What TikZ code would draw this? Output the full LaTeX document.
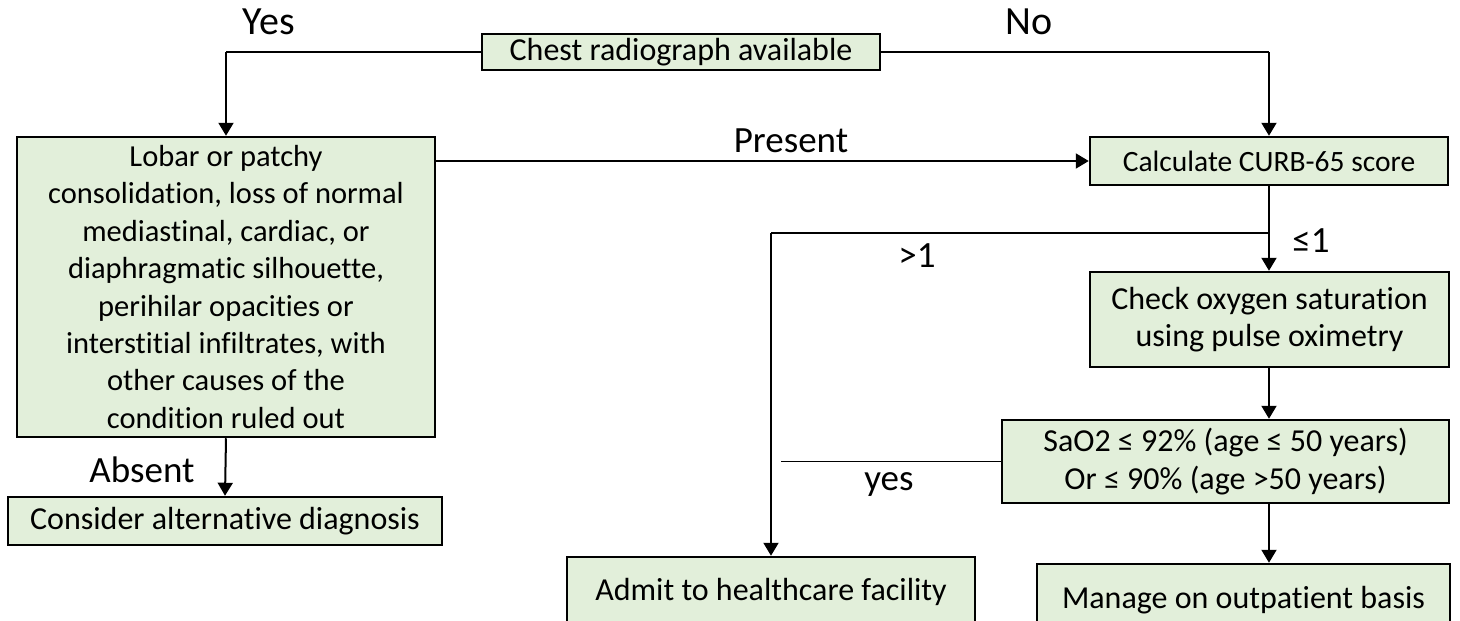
\documentclass[tikz,border=0pt]{standalone}
\usepackage{fontspec}
\setmainfont{Carlito}[Ligatures=NoCommon]
\usetikzlibrary{arrows.meta}
\definecolor{boxfill}{HTML}{E2EFDA}
\begin{document}
\begin{tikzpicture}[x=1pt,y=-1pt,
  box/.style={draw=black, line width=2.5pt, fill=boxfill, inner sep=0pt, align=center, font=\fontsize{32}{37}\selectfont},
  lbl/.style={font=\fontsize{37}{40}\selectfont, inner sep=0pt},
  conn/.style={line width=2pt, -{Triangle[length=13pt,width=15pt]}},
  thinline/.style={line width=1.3pt}]
\useasboundingbox (0,0) rectangle (1460,621);
\clip (0,0) rectangle (1460,621);
\fill[white] (0,0) rectangle (1460,621);

\node[box, minimum width=398pt, minimum height=36pt] (top) at (681,52) {Chest radiograph available};
\node[box, minimum width=418pt, minimum height=300pt, font=\fontsize{30.5}{37.4}\selectfont] (lobar) at (226,287) {Lobar or patchy\\consolidation, loss of normal\\mediastinal, cardiac, or\\diaphragmatic silhouette,\\perihilar opacities or\\interstitial infiltrates, with\\other causes of the\\condition ruled out};
\node[box, minimum width=434pt, minimum height=48pt] (alt) at (225,521) {Consider alternative diagnosis};
\node[box, minimum width=358pt, minimum height=48pt, font=\fontsize{29.5}{36}\selectfont] (curb) at (1269,161) {Calculate CURB-65 score};
\node[box, minimum width=359pt, minimum height=95pt] (check) at (1269.5,319.5) {Check oxygen saturation\\using pulse oximetry};
\node[box, minimum width=447pt, minimum height=83pt, font=\fontsize{32}{38.5}\selectfont] (sao2) at (1225.5,461.5) {SaO2 ≤ 92\% (age ≤ 50 years)\\Or ≤ 90\% (age >50 years)};
\node[box, minimum width=408pt, minimum height=70pt] (admit) at (771,592) {Admit to healthcare facility};
\node[box, minimum width=413pt, minimum height=72pt] (manage) at (1243.5,600) {Manage on outpatient basis};

\coordinate (yesc) at (lobar.north |- top.west);
\coordinate (noc) at (curb.north |- top.east);
\coordinate (br1) at (1269,233);
\coordinate (br2) at (admit.north |- br1);
\coordinate (yesend) at (781,461.5);

\draw[thinline] (top.west) -- (yesc);
\draw[conn] (yesc) -- (lobar.north);
\draw[thinline] (top.east) -- (noc);
\draw[conn] (noc) -- (curb.north);
\draw[conn] (lobar.north east |- curb.west) -- (curb.west);
\draw[conn] (curb.south) -- (check.north -| curb.south);
\draw[thinline] (br1) -- (br2);
\draw[conn] (br2) -- (admit.north);
\draw[conn] (check.south -| curb.south) -- (sao2.north -| curb.south);
\draw[thinline] (sao2.west) -- (yesend);
\draw[conn] (sao2.south -| curb.south) -- (manage.north -| curb.south);
\draw[conn] (lobar.south) -- (alt.north);

\node[lbl, font=\fontsize{40}{44}\selectfont] (lyes) at (269,22) {Yes};
\node[lbl, font=\fontsize{40}{44}\selectfont] (lno) at (1029,22) {No};
\node[lbl] (lpresent) at (791,141) {Present};
\node[lbl] (lgt) at (917,256) {>1};
\node[lbl] (lle) at (1311,241) {≤1};
\node[lbl] (labsent) at (142,470) {Absent};
\node[lbl] (lyes2) at (889,485) {yes};
\end{tikzpicture}
\end{document}
